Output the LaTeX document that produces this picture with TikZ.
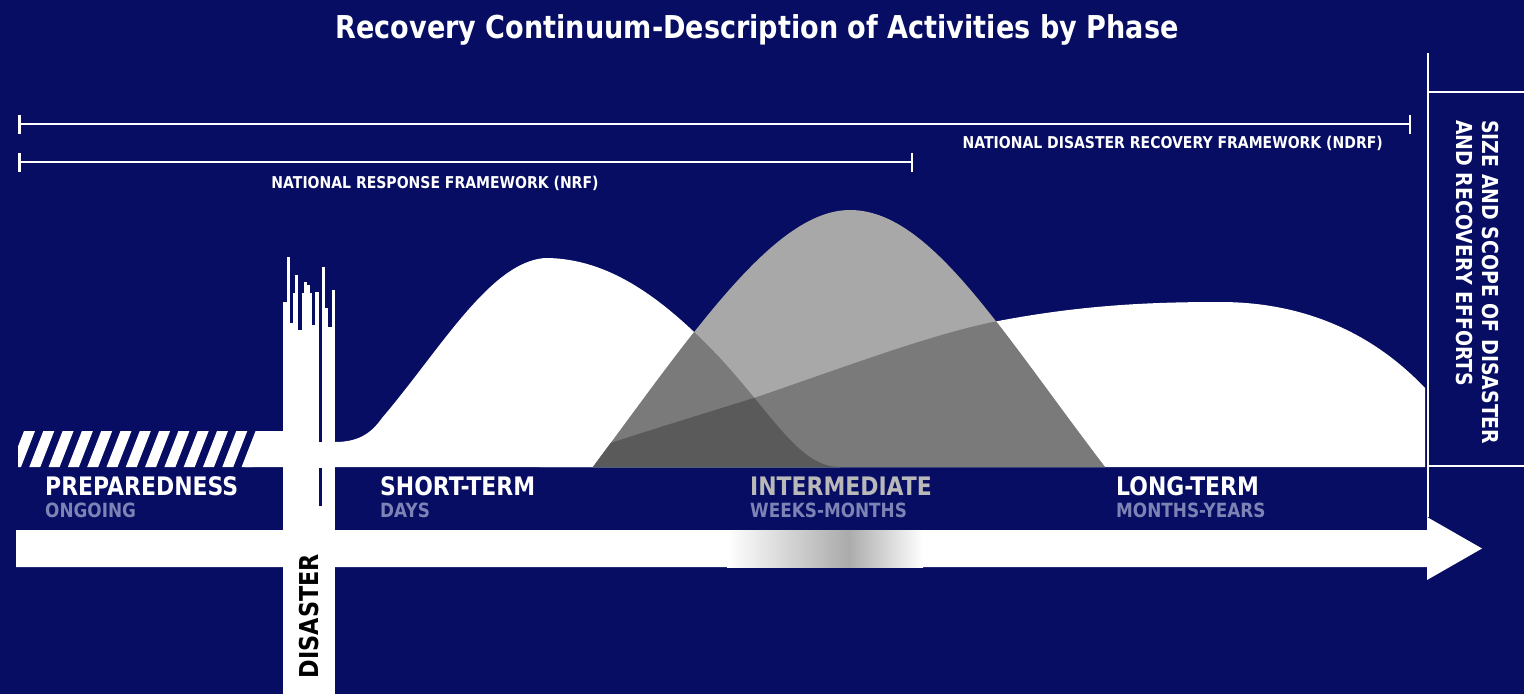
\documentclass[tikz,border=0pt]{standalone}
\usepackage{fontspec}
\setmainfont{DejaVu Sans}[FakeStretch=0.86]
\usetikzlibrary{arrows.meta}
\definecolor{navybg}{RGB}{6,13,98}
\definecolor{sublab}{RGB}{125,131,181}
\definecolor{midlab}{RGB}{185,185,185}
\definecolor{peakgray}{RGB}{168,168,168}
\definecolor{overgray}{RGB}{122,122,122}
\definecolor{deepgray}{RGB}{90,90,90}
\tikzset{
  titletext/.style={font=\fontsize{31.5}{33}\selectfont\bfseries,text=white,anchor=base,inner sep=0},
  frametext/.style={font=\fontsize{16.3}{18}\selectfont\bfseries,text=white,inner sep=0},
  bracket/.style={draw=white,line width=2.5pt,{Bar[width=19pt]}-{Bar[width=19pt]}},
  phase/.style={font=\fontsize{25.5}{28}\selectfont\bfseries,text=white,anchor=base west,inner sep=0},
  span/.style={font=\fontsize{19.6}{22}\selectfont\bfseries,text=sublab,anchor=base west,inner sep=0},
  boxtext/.style={font=\fontsize{22}{26}\selectfont\bfseries,text=white,inner sep=0,align=left},
  rule/.style={draw=white,line width=2pt},
}
\newcommand{\shortcurve}{(335,467) -- (335,442) .. controls (360,442) and (372,432) .. (382,418)
  .. controls (440,350) and (490,262) .. (545,258) .. controls (610,258) and (665,300) .. (720,358)
  .. controls (775,418) and (800,467) .. (840,467) -- cycle}
\newcommand{\longcurve}{(540,467) .. controls (600,445) and (700,415) .. (757,397)
  .. controls (850,365) and (930,335) .. (993,322) .. controls (1080,305) and (1150,302) .. (1220,302)
  .. controls (1300,302) and (1370,330) .. (1425,388) -- (1425,467) -- cycle}
\newcommand{\midcurve}{(593,467) .. controls (695,330) and (775,210) .. (850,210)
  .. controls (930,210) and (1000,330) .. (1105,467) -- cycle}

\begin{document}
\begin{tikzpicture}[x=1pt,y=-1pt]
  \fill[navybg] (0,0) rectangle (1524,694);
  \useasboundingbox (0,0) rectangle (1524,694);

  \node[titletext] (title) at (757,38) {Recovery Continuum-Description of Activities by Phase};

  \coordinate (ndrfL) at (18,124);
  \coordinate (ndrfR) at (1411,124);
  \coordinate (nrfL) at (18,162);
  \coordinate (nrfR) at (913,162);
  \draw[bracket] (ndrfL) -- (ndrfR);
  \draw[bracket] (nrfL) -- (nrfR);
  \node[frametext,anchor=base east] (ndrf) at (1383,148) {NATIONAL DISASTER RECOVERY FRAMEWORK (NDRF)};
  \node[frametext,anchor=base] (nrf) at (435,188) {NATIONAL RESPONSE FRAMEWORK (NRF)};

  \draw[rule] (1428,53) -- (1428,517);
  \draw[rule] (1428,92) -- (1524,92);
  \draw[rule] (1428,466) -- (1524,466);
  \node[boxtext,rotate=-90,anchor=north west] (scope) at (1499,120) {SIZE AND SCOPE OF DISASTER\\AND RECOVERY EFFORTS};

  \fill[white] \longcurve;
  \fill[white] \shortcurve;
  \fill[peakgray] \midcurve;
  \begin{scope}
    \clip \midcurve;
    \fill[overgray] \shortcurve;
    \fill[overgray] \longcurve;
    \clip \shortcurve;
    \fill[deepgray] \longcurve;
  \end{scope}

  \begin{scope}
    \clip (18,431) rectangle (283,467);
    \foreach \x in {0,19.3,...,240}
      \fill[white] (10+\x,467) -- ++(11,0) -- ++(14,-36) -- ++(-11,0) -- cycle;
    \fill[white] (245,467) -- (283,467) -- (283,431) -- (262,431) -- cycle;
  \end{scope}

  \fill[white] (16,530) -- (1427,530) -- (1427,517) -- (1482,548.5) -- (1427,580) -- (1427,567) -- (16,567) -- cycle;
  \shade[left color=white,right color=black!33] (727,530) rectangle (848,567);
  \shade[left color=black!33,right color=white] (848,530) rectangle (923,567);

  \fill[white] (283,330) rectangle (335,694);
  \foreach \a/\b/\t in {283/287/302,287/289.5/257,289.5/293/323,293/295/293,295/298/275,298/302/330,
      302/304/293,304/307/282,307/310/285,310/312/293,312/315/325,315/319/292,322/325/267,
      325/328/308,328/332/327,332/335/290}
    \fill[white] (\a,\t) rectangle (\b,694);
  \fill[navybg] (319,285) rectangle (322,442);
  \fill[navybg] (319,468) rectangle (322,506);
  \node[rotate=90,font=\fontsize{26}{28}\selectfont\bfseries,text=black,inner sep=0] (disaster) at (309,616) {DISASTER};

  \node[phase] (prep) at (45,495) {PREPAREDNESS};
  \node[span] (ongoing) at ([yshift=-22pt]prep.base west) {ONGOING};
  \node[phase] (short) at (380,495) {SHORT-TERM};
  \node[span] (days) at ([yshift=-22pt]short.base west) {DAYS};
  \node[phase,text=midlab] (inter) at (750,495) {INTERMEDIATE};
  \node[span] (weeks) at ([yshift=-22pt]inter.base west) {WEEKS-MONTHS};
  \node[phase] (long) at (1116,495) {LONG-TERM};
  \node[span] (years) at ([yshift=-22pt]long.base west) {MONTHS-YEARS};
\end{tikzpicture}
\end{document}
